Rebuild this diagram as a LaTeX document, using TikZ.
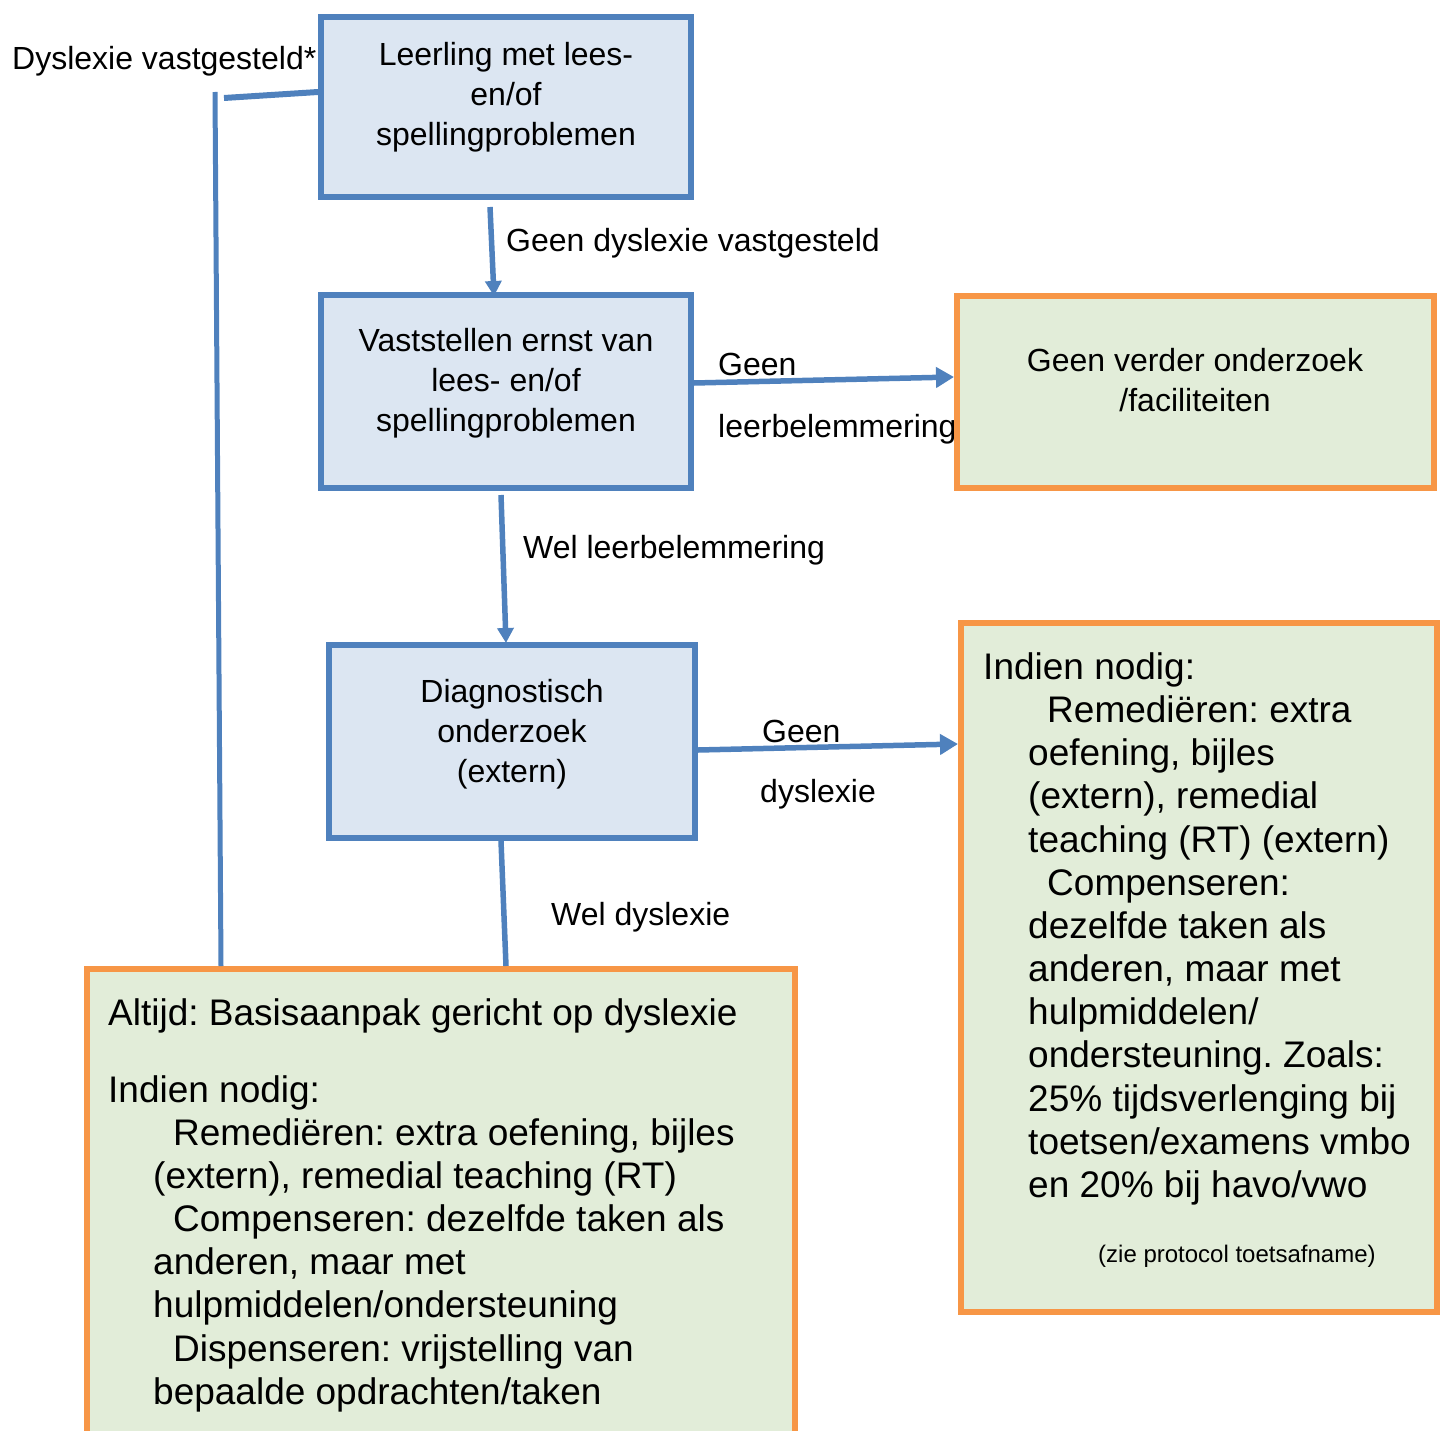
\documentclass[tikz,border=0pt]{standalone}
\usepackage{fontspec}
\setmainfont{Liberation Sans}
\usetikzlibrary{arrows.meta}
\frenchspacing

\definecolor{kaderblauw}{HTML}{4F81BD}
\definecolor{vulblauw}{HTML}{DCE6F2}
\definecolor{kaderoranje}{HTML}{F79646}
\definecolor{vulgroen}{HTML}{E2EDD9}

\tikzset{
	blauwvak/.style={draw=kaderblauw, fill=vulblauw, line width=6pt, inner sep=0pt},
	groenvak/.style={draw=kaderoranje, fill=vulgroen, line width=6pt, inner sep=0pt},
	tekst/.style={font=\fontsize{32}{40}\selectfont, inner sep=0pt, align=center},
	grotetekst/.style={font=\fontsize{37}{43.15}\selectfont, inner sep=0pt, align=left},
	label/.style={font=\fontsize{32}{40}\selectfont, inner sep=0pt, anchor=base west},
	lijn/.style={draw=kaderblauw, line width=5.5pt},
	pijl/.style={lijn, -{Triangle[length=18pt,width=20pt]}},
	kleinepijl/.style={lijn, -{Triangle[length=15pt,width=16pt]}}
}

\begin{document}
\begin{tikzpicture}[x=1pt,y=-1pt]
		\useasboundingbox (0,0) rectangle (1450,1431);
		\clip (0,0) rectangle (1450,1431);

		%LABELS
		\node[label] (vastgesteld) at (12,70) {Dyslexie vastgesteld*};
		\node[label] (geenvastgesteld) at (506,252) {Geen dyslexie vastgesteld};
		\node[label] (geen1) at (718,375) {Geen};
		\node[label] (belemmering1) at (718,437) {leerbelemmering};
		\node[label] (welbelemmering) at (523,558) {Wel leerbelemmering};
		\node[label] (geen2) at (762,742) {Geen};
		\node[label] (dyslexie2) at (760,802) {dyslexie};
		\node[label] (weldyslexie) at (551,925) {Wel dyslexie};

		%VAKKEN
		\node[blauwvak, minimum width=370pt, minimum height=180pt] (leerling) at (506,107) {};
		\node[blauwvak, minimum width=370pt, minimum height=193pt] (ernst) at (506,391.5) {};
		\node[blauwvak, minimum width=366pt, minimum height=193pt] (diag) at (512,741.5) {};
		\node[groenvak, minimum width=477pt, minimum height=192pt] (geen) at (1195.5,392) {};
		\node[groenvak, minimum width=476pt, minimum height=689pt] (hulp) at (1199,967.5) {};
		\node[groenvak, minimum width=708pt, minimum height=473pt] (basis) at (441,1205.5) {};

		%TEKSTEN
		\node[tekst, anchor=north] (leerlingtekst) at (506,42) {Leerling met lees-\\en/of\\spellingproblemen};
		\node[tekst, anchor=north] (ernsttekst) at (506,328) {Vaststellen ernst van\\lees- en/of\\spellingproblemen};
		\node[tekst, anchor=north] (diagtekst) at (512,679) {Diagnostisch\\onderzoek\\(extern)};
		\node[tekst, anchor=north] (geentekst) at (1195,348) {Geen verder onderzoek\\/faciliteiten};
		\node[grotetekst, anchor=north west] (hulptekst) at (983,652.5) {Indien nodig:\\
			\hspace*{64pt}Remediëren: extra\\
			\hspace*{45pt}oefening, bijles\\
			\hspace*{45pt}(extern), remedial\\
			\hspace*{45pt}teaching (RT) (extern)\\
			\hspace*{64pt}Compenseren:\\
			\hspace*{45pt}dezelfde taken als\\
			\hspace*{45pt}anderen, maar met\\
			\hspace*{45pt}hulpmiddelen/\\
			\hspace*{45pt}ondersteuning. Zoals:\\
			\hspace*{45pt}25\% tijdsverlenging bij\\
			\hspace*{45pt}toetsen/examens vmbo\\
			\hspace*{45pt}en 20\% bij havo/vwo};
		\node[font=\fontsize{24}{29}\selectfont, inner sep=0pt, anchor=base west] (protocol) at (1098,1262) {(zie protocol toetsafname)};
		\node[grotetekst, anchor=north west] (basistekst) at (108,998) {Altijd: Basisaanpak gericht op dyslexie\\[34pt]
			Indien nodig:\\
			\hspace*{65pt}Remediëren: extra oefening, bijles\\
			\hspace*{45pt}(extern), remedial teaching (RT)\\
			\hspace*{65pt}Compenseren: dezelfde taken als\\
			\hspace*{45pt}anderen, maar met\\
			\hspace*{45pt}hulpmiddelen/ondersteuning\\
			\hspace*{65pt}Dispenseren: vrijstelling van\\
			\hspace*{45pt}bepaalde opdrachten/taken};

		%VERBINDINGEN
		\draw[kleinepijl] ([xshift=-16pt,yshift=-7pt]leerling.south) -- ([xshift=-12pt,yshift=-4pt]ernst.north);
		\draw[pijl] ([yshift=8.5pt]ernst.east) -- ([yshift=15pt]geen.west);
		\draw[kleinepijl] ([xshift=-5pt,yshift=-4pt]ernst.south) -- ([xshift=-6pt,yshift=-1pt]diag.north);
		\draw[pijl] ([yshift=-8.5pt]diag.east) -- ([yshift=223.5pt]hulp.west);
		\draw[lijn] ([xshift=-11pt]diag.south) -- ([xshift=65pt]basis.north);

		%DYSLEXIE VASTGESTELD
		\coordinate (knik) at (224,98);
		\coordinate (boven) at (215,92);
		\draw[lijn, line width=6pt] ([yshift=15pt]leerling.west) -- (knik);
		\draw[lijn, line width=5pt] (boven) -- ([xshift=-220pt]basis.north);
	\end{tikzpicture}
\end{document}
